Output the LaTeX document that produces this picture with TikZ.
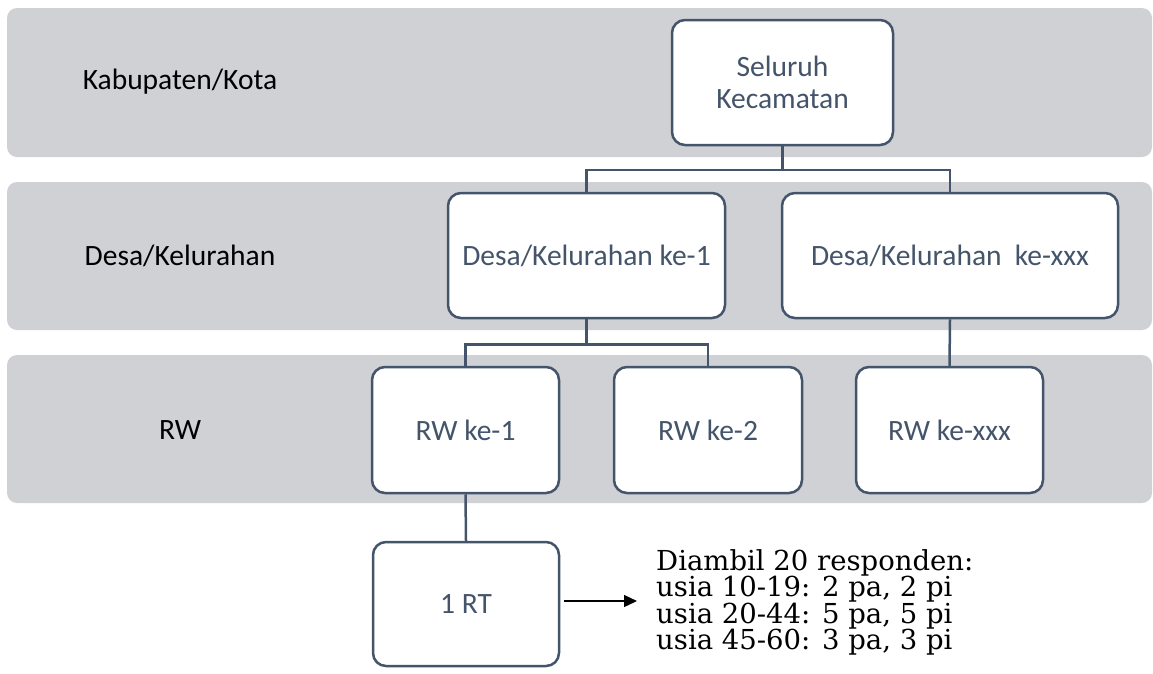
\documentclass[tikz,border=0pt]{standalone}
\usepackage{fontspec}
\setmainfont{Carlito}
\newfontfamily\notefont{DejaVu Serif}
\usetikzlibrary{arrows.meta}

\definecolor{bandgray}{HTML}{D0D1D5}
\definecolor{slate}{HTML}{44546A}

\tikzset{
  band/.style={fill=bandgray, rounded corners=10pt},
  levellabel/.style={font=\fontsize{29.5}{32}\selectfont, text=black, anchor=center},
  unitbox/.style={draw=slate, line width=2.5pt, fill=white, rounded corners=13pt,
    text=slate, font=\fontsize{29.5}{32}\selectfont, align=center,
    inner sep=0pt},
  link/.style={draw=slate, line width=2.5pt},
  pointer/.style={draw=black, line width=1.3pt, -{Triangle[length=13pt,width=12pt]}}
}

\begin{document}
\begin{tikzpicture}[x=1pt,y=-1pt]
\useasboundingbox (0,0) rectangle (1153,673);

% level bands
\fill[band] (7,8) rectangle (1152,157);
\fill[band] (7,182) rectangle (1152,330);
\fill[band] (7,355) rectangle (1152,503);

% level labels
\node[levellabel] (lvkab) at (180,82) {Kabupaten/Kota};
\node[levellabel] (lvdesa) at (180,256) {Desa/Kelurahan};
\node[levellabel] (lvrw) at (180,430) {RW};

% units
\node[unitbox, minimum width=221pt, minimum height=125pt] (kec) at (782.5,82.5) {Seluruh\\Kecamatan};
\node[unitbox, minimum width=277pt, minimum height=125pt] (desa1) at (586.5,255.5) {Desa/Kelurahan ke-1};
\node[unitbox, minimum width=336pt, minimum height=125pt] (desa2) at (950,255.5) {Desa/Kelurahan\ \ ke-xxx};
\node[unitbox, minimum width=187pt, minimum height=126pt] (rw1) at (465.5,430) {RW ke-1};
\node[unitbox, minimum width=188pt, minimum height=126pt] (rw2) at (708,430) {RW ke-2};
\node[unitbox, minimum width=187pt, minimum height=126pt] (rw3) at (949.5,430) {RW ke-xxx};
\node[unitbox, minimum width=186pt, minimum height=124pt] (rt) at (466,604) {1 RT};

% tree connectors
\draw[link] (kec.south) -- ++(0,23.5) -| (desa1.north);
\draw[link] (kec.south) -- ++(0,23.5) -| (desa2.north);
\draw[link] (desa1.south) -- ++(0,25) -| (rw1.north);
\draw[link] (desa1.south) -- ++(0,25) -| (rw2.north);
\draw[link] (desa2.south) -- (rw3.north);
\draw[link] (rw1.south) -- (rt.north);

% sampling note
\node[anchor=north west, inner sep=0pt, align=left,
      font=\notefont\fontsize{27.5}{26.5}\selectfont] (note) at (656,549)
  {Diambil 20 responden:\\usia 10-19: 2 pa, 2 pi\\usia 20-44: 5 pa, 5 pi\\usia 45-60: 3 pa, 3 pi};
\coordinate (tip) at (637,601);
\draw[pointer] (rt.east |- tip) ++(4,0) -- (tip);
\end{tikzpicture}
\end{document}
